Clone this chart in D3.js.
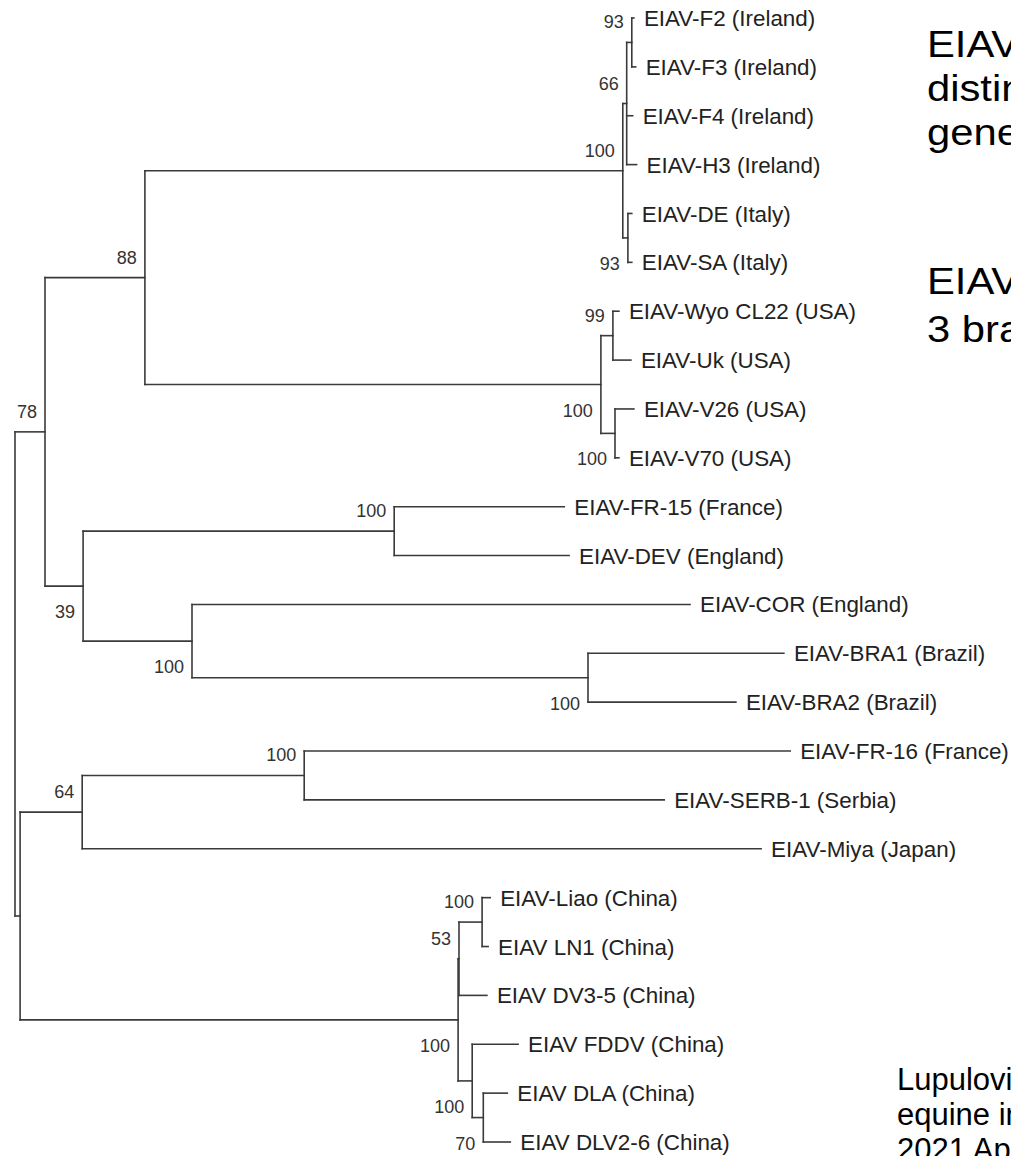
<!DOCTYPE html>
<html>
<head>
<meta charset="utf-8">
<script src="https://cdn.jsdelivr.net/npm/d3@7"></script>
<style>
body { margin: 0; background: #fff; }
svg { display: block; font-family: "Liberation Sans", Arial, sans-serif; }
</style>
</head>
<body>
<svg id="tree" width="1011" height="1156"></svg>
<script>
// tree topology: node, parent, branch length (subst./site), bootstrap
var nodeIds = ["root", "n78", "n88", "nIrIt", "nIre", "nF2F3", "F2", "F3", "F4", "H3", "nIt", "DE", "SA",
    "nUSA", "nWU", "Wyo", "Uk", "nV", "V26", "V70",
    "n39", "nFR15", "FR15", "DEV", "nCOR", "COR", "nBRA", "BRA1", "BRA2",
    "nB", "n64", "nFR16", "FR16", "SERB", "Miya",
    "nChina", "n53", "nLiao", "Liao", "LN1", "DV3", "nFDDV", "FDDV", "nDL", "DLA", "DLV"];

var parentIds = ["", "root", "n78", "n88", "nIrIt", "nIre", "nF2F3", "nF2F3", "nIre", "nIre", "nIrIt", "nIt", "nIt",
    "n88", "nUSA", "nWU", "nWU", "nUSA", "nV", "nV",
    "n78", "n39", "nFR15", "nFR15", "n39", "nCOR", "nCOR", "nBRA", "nBRA",
    "root", "nB", "n64", "nFR16", "nFR16", "n64",
    "nB", "nChina", "n53", "nLiao", "nLiao", "n53", "nChina", "nFDDV", "nFDDV", "nDL", "nDL"];

var branchLengths = [0, 0.0100, 0.0333, 0.1593, 0.0013, 0.0017, 0.0007, 0.0013, 0.0020, 0.0033, 0.0017, 0.0013, 0.0013,
    0.1520, 0.0040, 0.0020, 0.0060, 0.0047, 0.0063, 0.0013,
    0.0127, 0.1037, 0.0567, 0.0583, 0.0363, 0.1660, 0.1320, 0.0653, 0.0493,
    0.0017, 0.0207, 0.0740, 0.1620, 0.1200, 0.2263,
    0.1460, 0.0003, 0.0077, 0.0027, 0.0020, 0.0093, 0.0047, 0.0153, 0.0037, 0.0080, 0.0090];

var bootstraps = [null, 78, 88, 100, 66, 93, null, null, null, null, 93, null, null,
    100, 99, null, null, 100, null, null,
    39, 100, null, null, 100, null, 100, null, null,
    null, 64, 100, null, null, null,
    100, 53, 100, null, null, null, 100, null, 70, null, null];

// taxon labels, top to bottom
var leafIds = ["F2", "F3", "F4", "H3", "DE", "SA", "Wyo", "Uk", "V26", "V70",
    "FR15", "DEV", "COR", "BRA1", "BRA2", "FR16", "SERB", "Miya",
    "Liao", "LN1", "DV3", "FDDV", "DLA", "DLV"];
var leafNames = ["EIAV-F2 (Ireland)", "EIAV-F3 (Ireland)", "EIAV-F4 (Ireland)", "EIAV-H3 (Ireland)",
    "EIAV-DE (Italy)", "EIAV-SA (Italy)", "EIAV-Wyo CL22 (USA)", "EIAV-Uk (USA)", "EIAV-V26 (USA)", "EIAV-V70 (USA)",
    "EIAV-FR-15 (France)", "EIAV-DEV (England)", "EIAV-COR (England)", "EIAV-BRA1 (Brazil)", "EIAV-BRA2 (Brazil)",
    "EIAV-FR-16 (France)", "EIAV-SERB-1 (Serbia)", "EIAV-Miya (Japan)",
    "EIAV-Liao (China)", "EIAV LN1 (China)", "EIAV DV3-5 (China)", "EIAV FDDV (China)", "EIAV DLA (China)", "EIAV DLV2-6 (China)"];

// slide text next to the tree
var noteTop = ["EIAV isolates", "distinct", "genetic"];
var noteMid = ["EIAV", "3 branches"];
var noteRef = ["Lupulović D, et al.", "equine infectious anemia", "2021 Apr"];

// bootstrap values drawn under the branch instead of above
var belowLabel = ["n39", "nCOR", "nIt", "nV", "nUSA", "nBRA", "nChina", "nFDDV", "nDL"];

var svg = d3.select("#tree");

var table = nodeIds.map(function (id, i) {
    return { id: id, parent: parentIds[i], len: branchLengths[i], boot: bootstraps[i] };
});

var root = d3.stratify()
    .id(function (d) { return d.id; })
    .parentId(function (d) { return d.parent || null; })(table);

// distance from root
root.eachBefore(function (n) {
    n.dist = n.parent ? n.parent.dist + n.data.len : 0;
});

var x = d3.scaleLinear().domain([0, 0.25]).range([15, 765]);
var y = d3.scalePoint().domain(leafIds).range([18, 1142]);

// leaves on their row, inner nodes halfway between first and last child
root.eachAfter(function (n) {
    n.px = x(n.dist);
    if (n.children) {
        n.py = (n.children[0].py + n.children[n.children.length - 1].py) / 2;
    } else {
        n.py = y(n.id);
    }
});

var g = svg.append("g");

// horizontal branches
g.selectAll(".hbranch")
    .data(root.descendants().filter(function (n) { return n.parent; }))
    .enter().append("line")
    .attr("class", "hbranch")
    .attr("x1", function (n) { return n.parent.px; })
    .attr("x2", function (n) { return n.px; })
    .attr("y1", function (n) { return n.py; })
    .attr("y2", function (n) { return n.py; });

// vertical connectors
g.selectAll(".vbranch")
    .data(root.descendants().filter(function (n) { return n.children; }))
    .enter().append("line")
    .attr("class", "vbranch")
    .attr("x1", function (n) { return n.px; })
    .attr("x2", function (n) { return n.px; })
    .attr("y1", function (n) { return n.children[0].py; })
    .attr("y2", function (n) { return n.children[n.children.length - 1].py; });

g.selectAll("line")
    .attr("stroke", "#3a3a3a")
    .attr("stroke-width", 1.6)
    .attr("stroke-linecap", "square");

// taxon names
g.selectAll(".taxon")
    .data(root.leaves())
    .enter().append("text")
    .attr("class", "taxon")
    .attr("x", function (n) { return n.px + 10; })
    .attr("y", function (n) { return n.py; })
    .attr("dy", "0.36em")
    .attr("font-size", "22.4px")
    .attr("fill", "#222")
    .text(function (n) { return leafNames[leafIds.indexOf(n.id)]; });

// bootstrap values
g.selectAll(".boot")
    .data(root.descendants().filter(function (n) { return n.data.boot != null; }))
    .enter().append("text")
    .attr("class", "boot")
    .attr("text-anchor", "end")
    .attr("x", function (n) { return n.px - 8; })
    .attr("y", function (n) { return belowLabel.indexOf(n.id) >= 0 ? n.py + 32 : n.py - 14; })
    .attr("font-size", "18px")
    .attr("fill", "#333")
    .text(function (n) { return n.data.boot; });

// side notes (cut by the right edge, as on the slide)
function note(lines, x0, y0, size, lead, stretch) {
    svg.append("g").selectAll("text")
        .data(lines)
        .enter().append("text")
        .attr("transform", function (d, i) {
            return "translate(" + x0 + "," + (y0 + i * lead) + ") scale(" + stretch + ",1)";
        })
        .attr("font-size", size + "px")
        .attr("fill", "#000")
        .text(function (d) { return d; });
}
note(noteTop, 927, 57, 36, 44, 1.16);
note(noteMid, 927, 294, 36, 48, 1.16);
note(noteRef, 897, 1090, 31, 35, 1);
</script>
</body>
</html>
